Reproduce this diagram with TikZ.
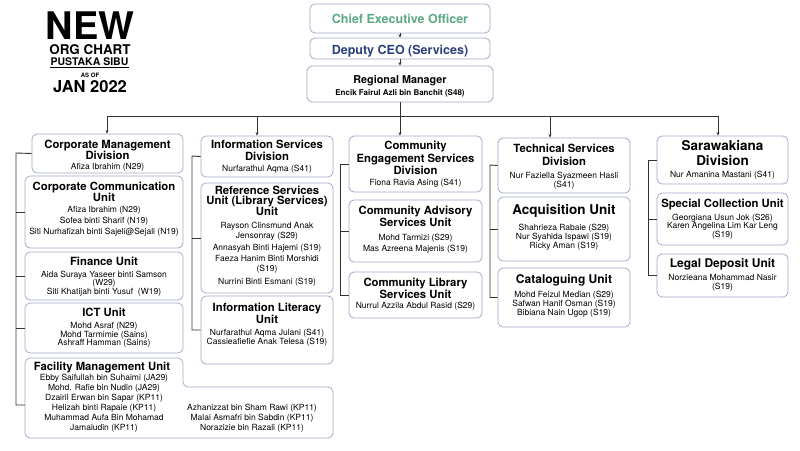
\documentclass[tikz,border=0pt]{standalone}
\usepackage{fontspec}
\setmainfont{TeX Gyre Heros}
\usetikzlibrary{arrows.meta,calc}
\definecolor{bx}{HTML}{A3ACCB}
\definecolor{ln}{HTML}{333333}
\definecolor{ceog}{HTML}{5DA888}
\definecolor{depb}{HTML}{2B3F7B}
\tikzset{
  ubox/.style={draw=bx, line width=0.8pt, rounded corners=5pt, fill=white},
  ttl/.style={font=\fontsize{11.3}{11.3}\selectfont\bfseries, anchor=base, inner sep=0pt},
  nm/.style={font=\fontsize{8.5}{8.5}\selectfont, anchor=base, inner sep=0pt},
  con/.style={draw=ln, line width=0.9pt},
  arr/.style={con, -{Stealth[length=3.5pt,width=3pt]}},
  hd/.style={anchor=base, inner sep=0pt},
}
\newcommand\bx[5]{\node[ubox, minimum width={#4-#2}, minimum height={#5-#3}, inner sep=0pt] (#1) at ({(#2+#4)/2},{(#3+#5)/2}) {};}
\newcommand\tl[4]{\foreach \yy/\tx [count=\i] in {#4} {\node[#3] (#1-\i) at (#2,\yy) {\tx};}}
\begin{document}
\begin{tikzpicture}[x=1pt,y=-1pt]
\useasboundingbox[fill=white] (0,0) rectangle (800,450);
% title block
\node[hd, font=\fontsize{38}{38}\selectfont\bfseries] (tnew) at (90,39) {NEW};
\node[hd, font=\fontsize{13.4}{13.4}\selectfont\bfseries] (torg) at (90,54) {ORG CHART};
\node[hd, font=\fontsize{10.5}{10.5}\selectfont\bfseries] (tpus) at (89.5,65.5) {PUSTAKA SIBU};
\draw[line width=0.8pt] ([yshift=-1.8pt]tpus.south west) -- ([yshift=-1.8pt]tpus.south east);
\node[hd, font=\fontsize{6}{6}\selectfont\bfseries] (tasof) at (90,77) {AS OF};
\node[hd, font=\fontsize{16.5}{16.5}\selectfont\bfseries] (tjan) at (90,92) {JAN 2022};
% top
\bx{ceo}{310}{4}{490}{33}
\node[hd, font=\fontsize{12.5}{12.5}\selectfont\bfseries, text=ceog] (ceot) at (400,23) {Chief Executive Officer};
\bx{dep}{310}{38}{490}{59}
\node[hd, font=\fontsize{12.5}{12.5}\selectfont\bfseries, text=depb] (dept) at (400,54) {Deputy CEO (Services)};
\bx{rm}{307}{66}{493}{102}
\node[hd, font=\fontsize{10.8}{10.8}\selectfont\bfseries] (rmt) at (400,83) {Regional Manager};
\node[hd, font=\fontsize{8}{8}\selectfont\bfseries] (rmn) at (400,95) {Encik Fairul Azli bin Banchit (S48)};
\draw[arr] (ceo.south) -- (dep.north);
\draw[arr] (dep.south) -- (rm.north);
% column boxes
\bx{cm}{32}{134}{183}{173}
\bx{cc}{25}{176}{183}{248}
\bx{fin}{25}{252}{183}{300}
\bx{ict}{25}{303}{183}{353}
\draw[ubox] (25,358) -- (183,358) -- (183,387) -- (333,387) -- (333,438) -- (25,438) -- cycle;
\coordinate (facw) at (25,405);
\bx{info}{201}{136}{333}{177}
\bx{ref}{201}{183}{333}{293}
\bx{lit}{201}{296}{333}{364}
\bx{ce}{349}{136}{482}{192}
\bx{ca}{349}{200}{482}{262}
\bx{cl}{349}{272}{482}{318}
\bx{ts}{498}{138}{630}{193}
\bx{acq}{498}{197}{630}{261}
\bx{cat}{498}{268}{630}{327}
\bx{sd}{657}{136}{788}{184}
\bx{sc}{657}{193}{788}{245}
\bx{ld}{657}{254}{788}{297}
% connectors
\coordinate (d1) at (107,116);
\coordinate (d2) at (257,116);
\coordinate (d3) at (400,116);
\coordinate (d4) at (550,116);
\coordinate (d5) at (718,116);
\draw[con] (d1) -- (d5);
\draw[arr] (rm.south) -- (rm.south |- ce.north);
\draw[arr] (d1) -- (d1 |- cm.north);
\draw[arr] (d2) -- (d2 |- info.north);
\draw[arr] (d4) -- (d4 |- ts.north);
\draw[arr] (d5) -- (d5 |- sd.north);
\coordinate (k1) at (16,153);
\draw[con] (cm.west) -- (k1) |- (facw);
\foreach \b in {cc,fin,ict} \draw[con] (\b.west) -- (\b.west -| k1);
\coordinate (k2) at (192,156);
\draw[con] (info.west) -- (k2) |- (lit.west);
\draw[con] (ref.west) -- (ref.west -| k2);
\coordinate (k3) at (340,164);
\draw[con] (ce.west) -- (k3) |- (cl.west);
\draw[con] (ca.west) -- (ca.west -| k3);
\coordinate (k4) at (490,165);
\draw[con] (ts.west) -- (k4) |- (cat.west);
\draw[con] (acq.west) -- (acq.west -| k4);
\coordinate (k5) at (648,160);
\draw[con] (sd.west) -- (k5) |- (ld.west);
\draw[con] (sc.west) -- (sc.west -| k5);
% texts column 1
\tl{cmt}{107.5}{ttl}{148/Corporate Management, 159/Division}
\tl{cmn}{107.5}{nm}{169/Afiza Ibrahim (N29)}
\tl{cct}{104}{ttl}{190/Corporate Communication, 201/Unit}
\tl{ccn}{104}{nm}{212/Afiza Ibrahim (N29), 223/Sofea binti Sharif (N19), 234/Siti Nurhafizah binti Sajeli@Sejali (N19)}
\tl{fint}{104}{ttl}{265/Finance Unit}
\tl{finn}{104}{nm}{277/Aida Suraya Yaseer binti Samson, 285/(W29), 294/Siti Khatijah binti Yusuf~ (W19)}
\tl{ictt}{104}{ttl}{316/ICT Unit}
\tl{ictn}{104}{nm}{328/Mohd Asraf (N29), 337/Mohd Tarmimie (Sains), 345/Ashraff Hamman (Sains)}
\tl{fact}{102}{ttl}{370/Facility Management Unit}
\tl{facn}{104}{nm}{380/Ebby Saifullah bin Suhaimi (JA29), 390/Mohd. Rafie bin Nudin (JA29), 400/Dzairil Erwan bin Sapar (KP11), 410/Helizah binti Rapaie (KP11), 420/Muhammad Aufa Bin Mohamad, 430/Jamaludin (KP11)}
\tl{facr}{252}{nm}{410/Azhanizzat bin Sham Rawi (KP11), 420/Malai Asmafri bin Sabdin (KP11), 430/Norazizie bin Razali (KP11)}
% column 2
\tl{inft}{267}{ttl}{148/Information Services, 160/Division}
\tl{infn}{267}{nm}{171/Nurfarathul Aqma (S41)}
\tl{reft}{267}{ttl}{194/Reference Services, 204.5/Unit (Library Services), 215/Unit}
\tl{refn}{267}{nm}{228/Rayson Clinsmund Anak, 238/Jensonray (S29), 250/Annasyah Binti Hajemi (S19), 261/Faeza Hanim Binti Morshidi, 271/(S19), 284/Nurrini Binti Esmani (S19)}
\tl{litt}{267}{ttl}{311/Information Literacy, 323/Unit}
\tl{litn}{267}{nm}{335/Nurfarathul Aqma Julani (S41), 344/Cassieafiefie Anak Telesa (S19)}
% column 3
\tl{cet}{415.5}{ttl}{149/Community, 162/Engagement Services, 174/Division}
\tl{cen}{415.5}{nm}{185/Fiona Ravia Asing (S41)}
\tl{cat3}{415.5}{ttl}{214/Community Advisory, 226/Services Unit}
\tl{can}{415.5}{nm}{240/Mohd Tarmizi (S29), 251/Mas Azreena Majenis (S19)}
\tl{clt}{415.5}{ttl}{286/Community Library, 298/Services Unit}
\tl{cln}{415.5}{nm}{308/Nurrul Azzila Abdul Rasid (S29)}
% column 4
\tl{tst}{564}{ttl}{152/Technical Services, 165/Division}
\tl{tsn}{564}{nm}{178/Nur Faziella Syazmeen Hasli, 187/(S41)}
\tl{acqt}{564}{ttl,font=\fontsize{13.5}{13.5}\selectfont\bfseries}{214/Acquisition Unit}
\tl{acqn}{564}{nm}{230/Shahrieza Rabaie (S29), 239/Nur Syahida Ispawi (S19), 248/Ricky Aman (S19)}
\tl{catt}{564}{ttl,font=\fontsize{12}{12}\selectfont\bfseries}{283/Cataloguing Unit}
\tl{catn}{564}{nm}{297/Mohd Feizul Median (S29), 306/Safwan Hanif Osman (S19), 315/Bibiana Nain Ugop (S19)}
% column 5
\tl{sdt}{722.5}{ttl,font=\fontsize{13.5}{13.5}\selectfont\bfseries}{150/Sarawakiana, 165/Division}
\tl{sdn}{722.5}{nm}{177/Nur Amanina Mastani (S41)}
\tl{sct}{722.5}{ttl}{207/Special Collection Unit}
\tl{scn}{722.5}{nm}{220/Georgiana Usun Jok (S26), 228/Karen Angelina Lim Kar Leng, 237/(S19)}
\tl{ldt}{722.5}{ttl,font=\fontsize{12}{12}\selectfont\bfseries}{267/Legal Deposit Unit}
\tl{ldn}{722.5}{nm}{280/Norzieana Mohammad Nasir, 289/(S19)}
\end{tikzpicture}
\end{document}
